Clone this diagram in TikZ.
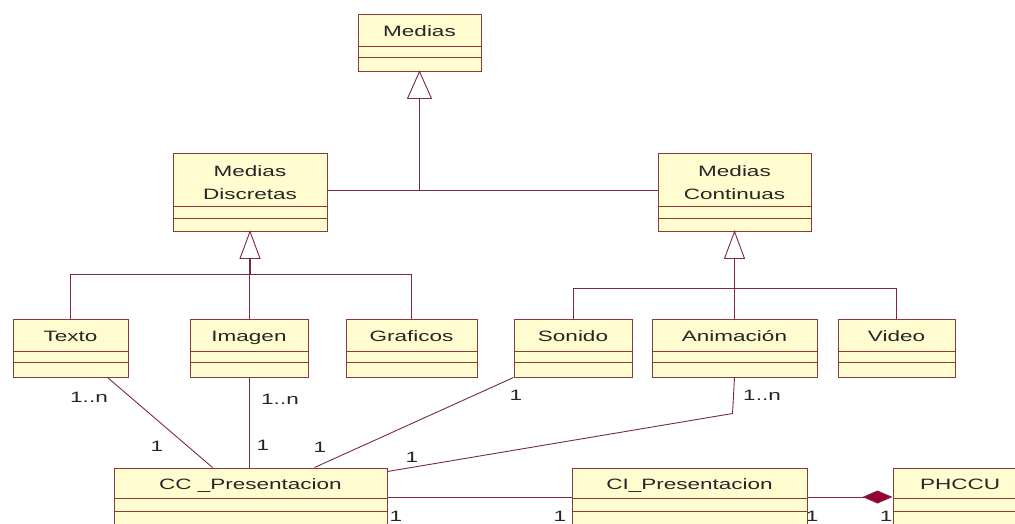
\documentclass[tikz,border=0pt]{standalone}
\usepackage{fontspec}
\setmainfont{Liberation Sans}[FakeStretch=1.5]
\usetikzlibrary{fit,calc,arrows.meta}
\definecolor{boxfill}{HTML}{FFFCCF}
\definecolor{boxline}{HTML}{8A3A3A}
\definecolor{wirecol}{HTML}{7A2A45}
\definecolor{diamcol}{HTML}{990033}

% class box: name, x1, y1, x2, y2, first bar, second bar, title
\newcommand\umlclass[8]{%
  \node[classbox, fit={(#2,#3) (#4,#5)}] (#1) {};
  \draw[boxline, line width=1pt] (#2,#6) -- (#4,#6) (#2,#7) -- (#4,#7);
  \node[cname] at ({(#2+#4)/2},{(#3+#6)/2+6}) {#8};
}

\begin{document}
\begin{tikzpicture}[x=1pt,y=-1pt,
  classbox/.style={draw=boxline, fill=boxfill, line width=1pt, inner sep=0pt, rectangle},
  wire/.style={draw=wirecol, line width=0.9pt},
  stem/.style={draw=wirecol, line width=1.8pt},
  gentri/.style={draw=wirecol, line width=0.9pt, fill=white},
  cname/.style={font=\fontsize{15}{17}\selectfont, text=black!85, inner sep=0pt, anchor=base},
  mult/.style={font=\fontsize{15}{17}\selectfont, text=black!85, inner sep=0pt},
  comp/.style={draw=wirecol, line width=0.9pt, -{Diamond[length=30pt,width=13pt,fill=diamcol]}}
]
\clip (0,0) rectangle (1015,523);
\fill[white] (0,0) rectangle (1015,523);

% classes
\umlclass{medias}{358}{14}{481}{71}{46}{57}{Medias}
\umlclass{md}{173}{153}{327}{231}{206}{218}{}
\node[cname] at (250,176) {Medias};
\node[cname] at (250,199) {Discretas};
\umlclass{mc}{658}{153}{811}{231}{206}{218}{}
\node[cname] at (734.5,176) {Medias};
\node[cname] at (734.5,199) {Continuas};
\umlclass{texto}{13}{319}{128}{377}{351}{362}{Texto}
\umlclass{imagen}{190}{319}{308}{377}{351}{362}{Imagen}
\umlclass{graficos}{346}{319}{477}{377}{351}{362}{Graficos}
\umlclass{sonido}{514}{319}{632}{377}{351}{362}{Sonido}
\umlclass{anim}{652}{319}{817}{377}{351}{362}{Animación}
\umlclass{video}{838}{319}{955}{377}{351}{362}{Video}
\umlclass{cc}{114}{468}{387}{526}{498}{511}{CC \_Presentacion}
\umlclass{ci}{572}{468}{807}{526}{498}{511}{CI\_Presentacion}
\umlclass{phccu}{893}{468}{1027}{526}{498}{511}{PHCCU}

% generalisation: Medias
\coordinate (gbar) at (420,190);
\draw[wire] (md.east |- gbar) -- (mc.west |- gbar);
\draw[wire] ($(medias.south)+(0,27)$) -- (medias.south |- gbar);
\draw[gentri] (medias.south) -- ++(-12,27) -- ++(24,0) -- cycle;

% generalisation: Medias Discretas
\coordinate (dbar) at (250,274);
\draw[wire] (texto.north |- dbar) -- (graficos.north |- dbar);
\draw[wire] (texto.north |- dbar) -- (texto.north);
\draw[wire] (imagen.north |- dbar) -- (imagen.north);
\draw[wire] (graficos.north |- dbar) -- (graficos.north);
\draw[stem] ($(md.south)+(0,27)$) -- (md.south |- dbar);
\draw[gentri] (md.south) -- ++(-10,27) -- ++(20,0) -- cycle;

% generalisation: Medias Continuas
\coordinate (cbar) at (734,288);
\draw[wire] (sonido.north |- cbar) -- (video.north |- cbar);
\draw[wire] (sonido.north |- cbar) -- (sonido.north);
\draw[wire] (anim.north |- cbar) -- (anim.north);
\draw[wire] (video.north |- cbar) -- (video.north);
\draw[stem] ($(mc.south)+(0,27)$) -- (mc.south |- cbar);
\draw[gentri] (mc.south) -- ++(-10,27) -- ++(20,0) -- cycle;

% associations towards CC_Presentacion
\draw[wire] ([xshift=-21pt]texto.south east) -- ($(cc.north west)+(99,0)$);
\draw[wire] (imagen.south) -- (imagen.south |- cc.north);
\draw[wire] (sonido.south west) -- ($(cc.north west)+(201,0)$);
\draw[wire] (anim.south) -- ($(anim.south)+(-2,36)$) -- ($(cc.north east)+(0,4)$);
\draw[wire] (cc.east) -- (ci.west);
\draw[comp] (ci.east) -- (phccu.west);

% multiplicities
\node[mult] at (89,397) {1..n};
\node[mult] at (157,446) {1};
\node[mult] at (280,399) {1..n};
\node[mult] at (263,445) {1};
\node[mult] at (320,447) {1};
\node[mult] at (412,457) {1};
\node[mult] at (516,395) {1};
\node[mult] at (762,395) {1..n};
\node[mult] at (396,516) {1};
\node[mult] at (560,516) {1};
\node[mult] at (812,516) {1};
\node[mult] at (886,516) {1};
\end{tikzpicture}
\end{document}
